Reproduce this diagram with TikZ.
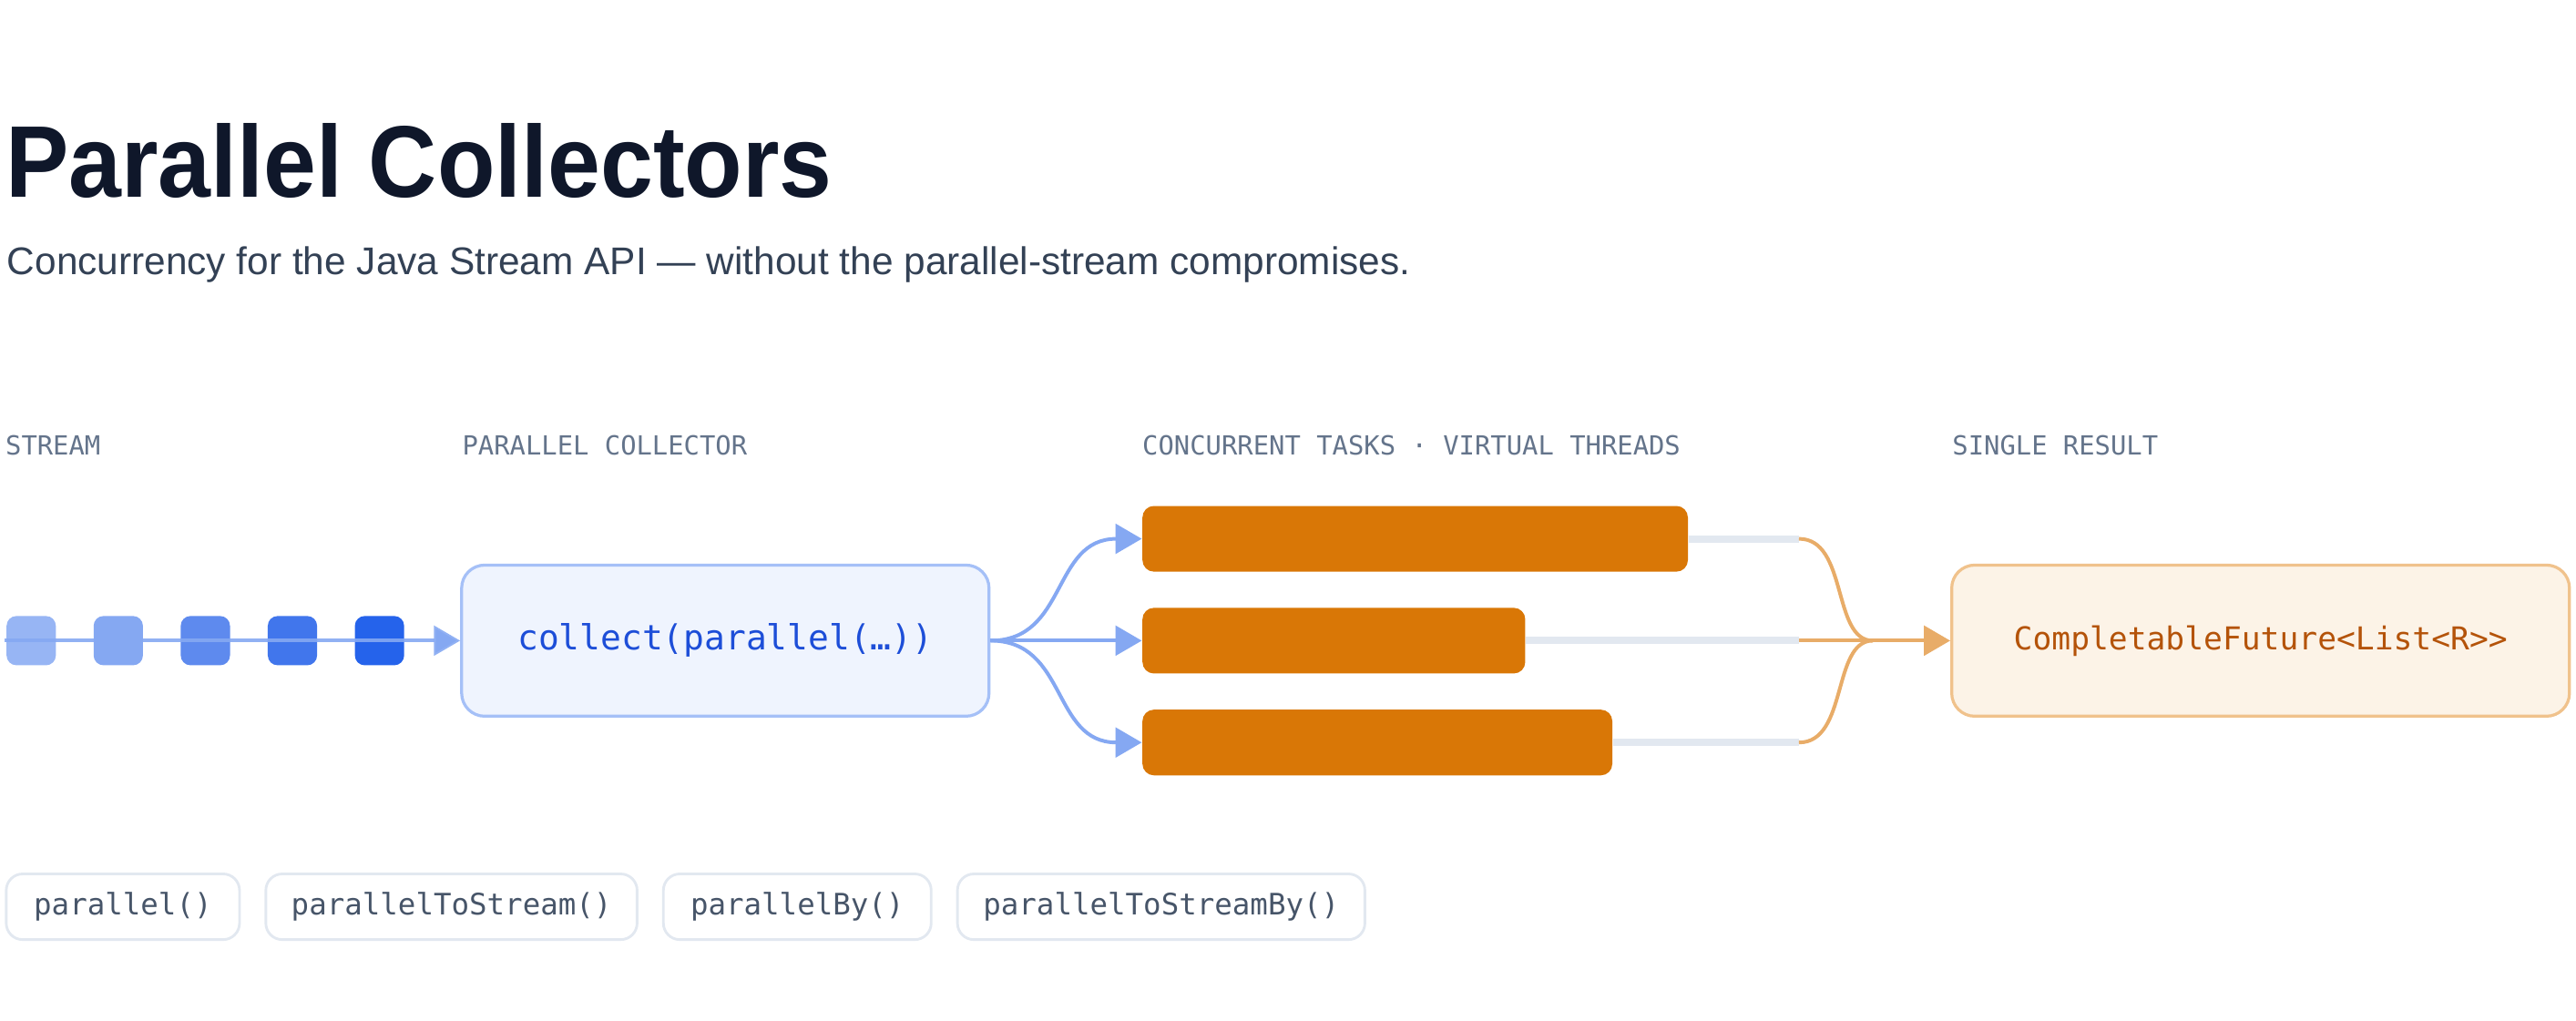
\documentclass[tikz,border=0pt]{standalone}
\usepackage{fontspec}
\setmainfont{Liberation Sans}
\setsansfont{Liberation Sans}
\setmonofont{DejaVu Sans Mono}
\usetikzlibrary{arrows.meta}
\definecolor{ink}{HTML}{0F172A}
\definecolor{sub}{HTML}{334155}
\definecolor{lab}{HTML}{64748B}
\definecolor{bfill}{HTML}{EFF4FE}
\definecolor{bline}{HTML}{A5C0F7}
\definecolor{btext}{HTML}{1D4ED8}
\definecolor{barrow}{HTML}{85A8F2}
\definecolor{task}{HTML}{D97706}
\definecolor{tail}{HTML}{E2E8F0}
\definecolor{ofill}{HTML}{FCF3E7}
\definecolor{oline}{HTML}{F0C28C}
\definecolor{otext}{HTML}{B45309}
\definecolor{oarrow}{HTML}{E8AC68}
\definecolor{pilltext}{HTML}{475569}
\begin{document}
\begin{tikzpicture}[x=0.5pt,y=-0.5pt,
  lbl/.style={anchor=base west,font=\ttfamily\fontsize{8}{9}\selectfont,text=lab,inner sep=0},
  sq/.style={rounded corners=3pt,minimum width=15pt,minimum height=15pt,inner sep=0},
  taskbar/.style={fill=task,rounded corners=3.5pt,inner sep=0,minimum height=20pt,anchor=west},
  pill/.style={draw=tail,line width=0.8pt,rounded corners=5pt,minimum height=20pt,inner sep=0,anchor=west,font=\ttfamily\fontsize{9}{10}\selectfont,text=pilltext},
  barr/.style={draw=barrow,line width=1.1pt,-{Triangle[length=8pt,width=9pt]}},
  oarr/.style={draw=oarrow,line width=1.1pt}]
\useasboundingbox (0,0) rectangle (1568,621);
\node[anchor=base west,inner sep=0,font=\fontsize{31}{34}\bfseries\selectfont,text=ink] (title) at (3,120) {\scalebox{0.93}[1]{Parallel Collectors}};
\node[anchor=base west,inner sep=0,font=\fontsize{11.75}{13}\selectfont,text=sub] (subt) at (4,167) {Concurrency for the Java Stream API — without the parallel-stream compromises.};
\node[lbl] (l1) at (3,277) {STREAM};
\node[lbl] (l2) at (281,277) {PARALLEL COLLECTOR};
\node[lbl] (l3) at (695,277) {CONCURRENT TASKS · VIRTUAL THREADS};
\node[lbl] (l4) at (1188,277) {SINGLE RESULT};
% stream
\node[sq,fill=barrow!85!white] (s1) at (19,390) {};
\node[sq,fill=barrow] (s2) at (72,390) {};
\node[sq,fill={rgb,255:red,94;green,138;blue,238}] (s3) at (125,390) {};
\node[sq,fill={rgb,255:red,65;green,118;blue,236}] (s4) at (178,390) {};
\node[sq,fill={rgb,255:red,37;green,99;blue,235}] (s5) at (231,390) {};
\coordinate (st) at (3,390);
% collector
\node[draw=bline,fill=bfill,line width=0.9pt,rounded corners=7pt,minimum width=160.5pt,minimum height=46pt,inner sep=0,font=\ttfamily\fontsize{10.5}{12}\selectfont,text=btext] (col) at (441.5,390) {collect(parallel(…))};
\draw[barr,draw opacity=0.9] (st) -- (col.west);
% tasks
\node[taskbar,minimum width=166pt] (t1) at (695,328) {};
\node[taskbar,minimum width=116.5pt] (t2) at (695,390) {};
\node[taskbar,minimum width=143pt] (t3) at (695,452) {};
\coordinate (e1) at (1095,328);
\coordinate (e2) at (1095,390);
\coordinate (e3) at (1095,452);
\draw[tail,line width=2.2pt] (t1.east) -- (e1);
\draw[tail,line width=2.2pt] (t2.east) -- (e2);
\draw[tail,line width=2.2pt] (t3.east) -- (e3);
\draw[barr] (col.east) .. controls (650,390) and (640,328) .. (t1.west);
\draw[barr] (col.east) -- (t2.west);
\draw[barr] (col.east) .. controls (650,390) and (640,452) .. (t3.west);
% result
\node[draw=oline,fill=ofill,line width=0.9pt,rounded corners=7pt,minimum width=188pt,minimum height=46pt,inner sep=0,font=\ttfamily\fontsize{9.6}{11}\selectfont,text=otext] (res) at (1376,390) {CompletableFuture<List<R>{}>};
\coordinate (m) at (1140,390);
\draw[oarr] (e1) .. controls (1125,328) and (1115,390) .. (m);
\draw[oarr] (e3) .. controls (1125,452) and (1115,390) .. (m);
\draw[oarr,-{Triangle[length=8pt,width=9pt]}] (e2) -- (res.west);
% pills
\node[pill,minimum width=71pt] (p1) at (3,552) {parallel()};
\node[pill,minimum width=113pt] (p2) at (161,552) {parallelToStream()};
\node[pill,minimum width=81.5pt] (p3) at (403,552) {parallelBy()};
\node[pill,minimum width=124pt] (p4) at (582,552) {parallelToStreamBy()};
\end{tikzpicture}
\end{document}
